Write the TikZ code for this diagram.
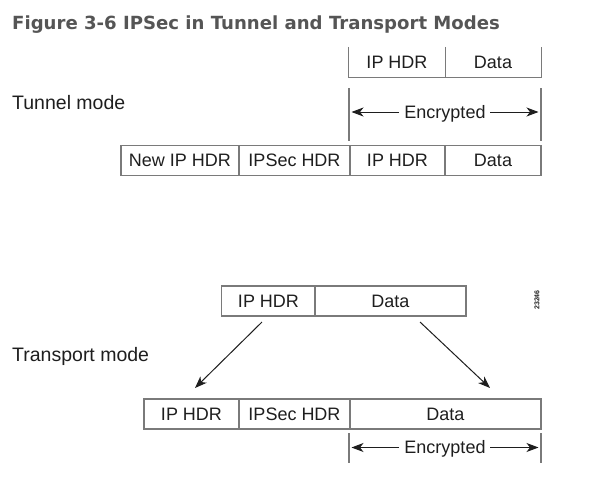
\documentclass[tikz,border=0pt]{standalone}
\usepackage{fontspec}
\setmainfont{Liberation Sans}
\newfontfamily\titlefont{DejaVu Sans}
\usetikzlibrary{arrows.meta}
\definecolor{boxline}{HTML}{7A7A7A}
\definecolor{txt}{HTML}{1E1E1E}
\definecolor{ttl}{HTML}{555555}
\begin{document}
\begin{tikzpicture}[x=1pt,y=-1pt,
  cell/.style={draw=boxline,line width=1.1pt,minimum height=30pt,inner sep=0pt,font=\fontsize{18}{20}\selectfont,text=txt},
  bare/.style={minimum height=30pt,inner sep=0pt,font=\fontsize{18}{20}\selectfont,text=txt},
  lbl/.style={anchor=base west,inner sep=0pt,font=\fontsize{19.5}{21}\selectfont,text=txt},
  vline/.style={draw=boxline,line width=1.1pt},
  arr/.style={draw=txt,line width=1pt,-{Stealth[length=12pt,width=9pt,inset=3.5pt]}}]
\useasboundingbox (0,0) rectangle (606,479);
% title
\node[anchor=base west,inner sep=0pt,font=\titlefont\bfseries\fontsize{18.1}{20}\selectfont,text=ttl] (title) at (12,29) {Figure 3-6 IPSec in Tunnel and Transport Modes};
% tunnel mode
\node[lbl] (tlabel) at (12,109) {Tunnel mode};
\node[bare,minimum width=96pt] (tip) at (397,62) {IP HDR};
\node[bare,minimum width=96pt] (tdata) at (493,62) {Data};
\draw[vline] (tip.north west) -- (tip.south west) -- (tdata.south east) -- (tdata.north east);
\draw[vline] (tip.north east) -- (tip.south east);
\coordinate (te1t) at (349,88); \coordinate (te1b) at (349,141);
\coordinate (te2t) at (541,88); \coordinate (te2b) at (541,141);
\draw[vline] (te1t) -- (te1b);
\draw[vline] (te2t) -- (te2b);
\node[bare,minimum height=0pt,anchor=base] (tenc) at (445,118) {Encrypted};
\coordinate (tel) at (351.5,112); \coordinate (ter) at (538.5,112);
\coordinate (tels) at (399,112); \coordinate (ters) at (490,112);
\draw[arr] (tels) -- (tel);
\draw[arr] (ters) -- (ter);
\node[cell,minimum width=118pt] (tnew) at (180,160.5) {New IP HDR};
\node[cell,minimum width=111pt] (tsec) at (294.5,160.5) {IPSec HDR};
\node[cell,minimum width=95pt] (tip2) at (397.5,160.5) {IP HDR};
\node[cell,minimum width=96pt] (tdata2) at (493,160.5) {Data};
% transport mode
\node[lbl] (plabel) at (12,361.5) {Transport mode};
\node[cell,minimum width=93.5pt] (pip) at (268.5,301) {IP HDR};
\node[cell,minimum width=151pt] (pdata) at (390.5,301) {Data};
\coordinate (pa1s) at (262,322); \coordinate (pa1e) at (195,388);
\coordinate (pa2s) at (420,322); \coordinate (pa2e) at (490,388);
\draw[arr] (pa1s) -- (pa1e);
\draw[arr] (pa2s) -- (pa2e);
\node[cell,minimum width=95pt] (bip) at (191.5,414) {IP HDR};
\node[cell,minimum width=111pt] (bsec) at (294.5,414) {IPSec HDR};
\node[cell,minimum width=191pt] (bdata) at (445.5,414) {Data};
\coordinate (be1t) at (349,433); \coordinate (be1b) at (349,463);
\coordinate (be2t) at (541,433); \coordinate (be2b) at (541,463);
\draw[vline] (be1t) -- (be1b);
\draw[vline] (be2t) -- (be2b);
\node[bare,minimum height=0pt,anchor=base] (benc) at (445,453.5) {Encrypted};
\coordinate (bel) at (351.5,447.5); \coordinate (ber) at (538.5,447.5);
\coordinate (bels) at (399,447.5); \coordinate (bers) at (490,447.5);
\draw[arr] (bels) -- (bel);
\draw[arr] (bers) -- (ber);
% figure number
\node[rotate=90,inner sep=0pt,font=\fontsize{7}{8}\selectfont\bfseries,text=txt] (fignum) at (537,300) {23246};
\end{tikzpicture}
\end{document}
